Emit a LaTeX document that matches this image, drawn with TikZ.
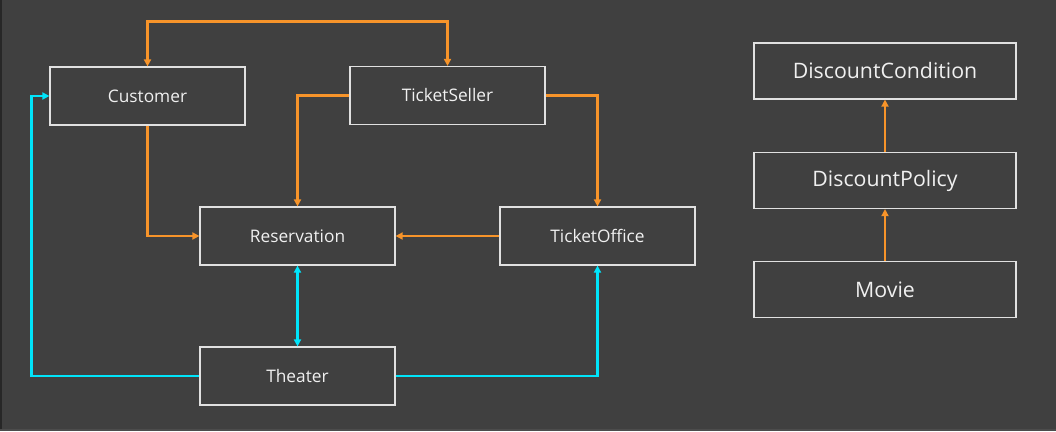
\documentclass[tikz,border=0pt]{standalone}
\usepackage{fontspec}
\setmainfont{Open Sans}
\usetikzlibrary{arrows.meta}
\definecolor{bg}{RGB}{64,64,64}
\definecolor{boxline}{RGB}{225,225,225}
\definecolor{txt}{RGB}{240,240,240}
\definecolor{orng}{RGB}{247,148,42}
\definecolor{cyn}{RGB}{0,228,250}
\tikzset{
  cls/.style={draw=boxline, line width=1.2pt, minimum width=195pt, minimum height=58pt, text=txt, font=\fontsize{17.3}{20}\selectfont, inner sep=0pt},
  clsb/.style={cls, minimum width=262pt, minimum height=56pt, font=\fontsize{21.3}{24}\selectfont},
  oline/.style={draw=orng, line width=2.2pt, -{Triangle[width=7pt,length=7pt]}},
  cline/.style={draw=cyn, line width=2.2pt, -{Triangle[width=7pt,length=7pt]}},
  both/.style={{Triangle[width=7pt,length=7pt]}-{Triangle[width=7pt,length=7pt]}}
}
\begin{document}
\begin{tikzpicture}[x=1pt,y=-1pt]
\fill[bg] (0,0) rectangle (1056,431);
\fill[black!70] (0,429) rectangle (1056,431);
\fill[black!40!bg] (0,0) rectangle (2,429);
\useasboundingbox (0,0) rectangle (1056,431);

\node[cls] (cust) at (147.5,96) {Customer};
\node[cls] (seller) at (447.5,95.5) {TicketSeller};
\node[cls] (res) at (297.5,236) {Reservation};
\node[cls] (office) at (597.5,236) {TicketOffice};
\node[cls] (theater) at (297.5,376) {Theater};

\node[clsb] (cond) at (885,71) {DiscountCondition};
\node[clsb] (policy) at (885,180.5) {DiscountPolicy};
\node[clsb] (movie) at (885,289.5) {Movie};

\draw[oline,both] (cust.north) -- ++(0,-45) -| (seller.north);
\draw[oline] (cust.south) |- (res.west);
\draw[oline] (seller.west) -| (res.north);
\draw[oline] (seller.east) -| (office.north);
\draw[oline] (office.west) -- (res.east);

\draw[cline,both] (theater.north) -- (res.south);
\draw[cline] (theater.west) -- ++(-168,0) |- (cust.west);
\draw[cline] (theater.east) -| (office.south);

\draw[oline] (movie.north) -- (policy.south);
\draw[oline] (policy.north) -- (cond.south);
\end{tikzpicture}
\end{document}
